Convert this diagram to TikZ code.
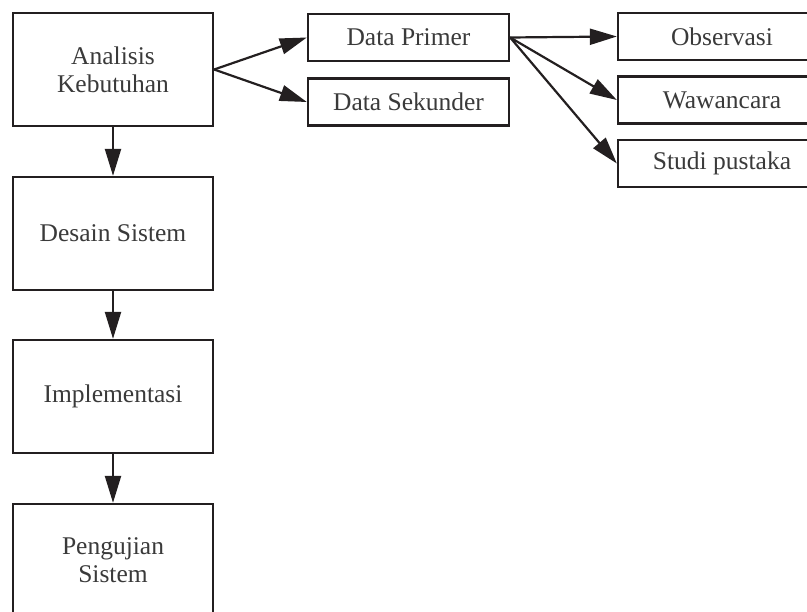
\documentclass[tikz,border=0pt]{standalone}
\usepackage{fontspec}
\setmainfont{Liberation Serif}
\usetikzlibrary{arrows.meta}
\definecolor{ink}{HTML}{231F20}
\definecolor{txt}{HTML}{3A3A3A}
\begin{document}
\begin{tikzpicture}[x=1pt,y=-1pt,
  box/.style={draw=ink, line width=2.3pt, inner sep=0pt, align=center,
    text=txt, font=\fontsize{25.5}{28}\selectfont},
  bigbox/.style={box, minimum width=200pt, minimum height=113pt},
  smallbox/.style={box, minimum width=201pt, minimum height=47pt},
  rightbox/.style={box, minimum width=208pt, minimum height=47pt},
  link/.style={draw=ink, line width=2.2pt, -{Triangle[length=27pt,width=16pt]}}]
\useasboundingbox (0,0) rectangle (807,612);
\clip (0,0) rectangle (807,612);
% main stages, top to bottom
\node[bigbox] (ak) at (113,69.5) {Analisis\\Kebutuhan};
\node[bigbox] (ds) at (113,233.5) {Desain Sistem};
\node[bigbox] (im) at (113,396.5) {Implementasi};
\node[bigbox] (ps) at (113,560.5) {Pengujian\\Sistem};
% kinds of data
\node[smallbox] (dp) at (408.5,37.5) {Data Primer};
\node[smallbox] (dsk) at (408.5,102) {Data Sekunder};
% data collection methods
\node[rightbox] (ob) at (722,36.5) {Observasi};
\node[rightbox] (ww) at (722,100) {Wawancara};
\node[rightbox] (sp) at (722,163.5) {Studi pustaka};
% connectors
\draw[link] (ak.south) -- (ds.north);
\draw[link] (ds.south) -- (im.north);
\draw[link] (im.south) -- (ps.north);
\draw[link] (ak.east) -- (dp.west);
\draw[link] (ak.east) -- (dsk.west);
\draw[link] (dp.east) -- (ob.west);
\draw[link] (dp.east) -- (ww.west);
\draw[link] (dp.east) -- (sp.west);
\end{tikzpicture}
\end{document}
